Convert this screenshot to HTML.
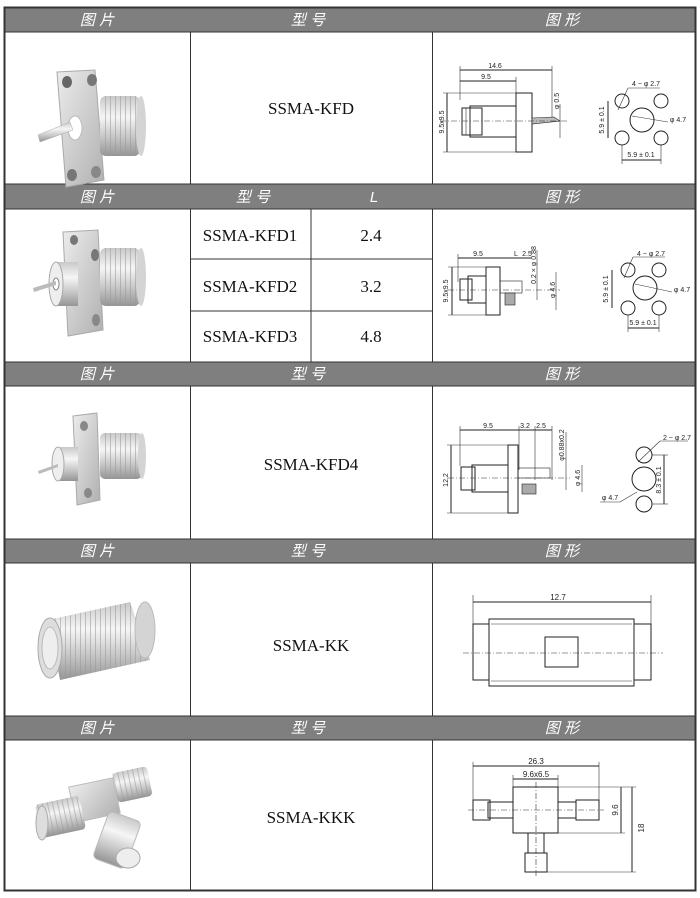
<!DOCTYPE html>
<html><head><meta charset="utf-8"><style>
html,body{margin:0;padding:0;background:#fff;}
svg{display:block;}
.h{font-family:"Liberation Sans","Noto Sans CJK SC",sans-serif;font-size:15px;fill:#fff;font-style:italic;text-anchor:middle;}
.m{font-family:"Liberation Serif",serif;font-size:17px;fill:#111;text-anchor:middle;}
.d{font-family:"Liberation Sans",sans-serif;font-size:7px;fill:#222;text-anchor:middle;}
.ln{stroke:#222;stroke-width:1;fill:none;}
.th{stroke:#333;stroke-width:0.6;fill:none;}
.cl{stroke:#333;stroke-width:0.6;stroke-dasharray:6 2 1 2;fill:none;}
</style></head><body>
<svg width="700" height="898" viewBox="0 0 700 898" xmlns="http://www.w3.org/2000/svg">
<defs>
<linearGradient id="mg" x1="0" y1="0" x2="0" y2="1">
<stop offset="0" stop-color="#c9c9c9"/><stop offset="0.35" stop-color="#f6f6f6"/><stop offset="0.7" stop-color="#c4c4c4"/><stop offset="1" stop-color="#959595"/></linearGradient>
<linearGradient id="fg" x1="0" y1="0" x2="1" y2="1">
<stop offset="0" stop-color="#ececec"/><stop offset="1" stop-color="#b0b0b0"/></linearGradient>
<pattern id="thr" width="5" height="10" patternUnits="userSpaceOnUse"><rect width="1" height="10" fill="#999" opacity="0.55"/></pattern>
</defs>

<g fill="#7f7f7f">
<rect x="4" y="7" width="692" height="25"/>
<rect x="4" y="184" width="692" height="25"/>
<rect x="4" y="362" width="692" height="24"/>
<rect x="4" y="539" width="692" height="24"/>
<rect x="4" y="716" width="692" height="24"/>
</g>
<g stroke="#333" stroke-width="1" fill="none">
<rect x="4.5" y="7.5" width="691" height="883" stroke-width="2"/>
<line x1="4" y1="32" x2="696" y2="32"/><line x1="4" y1="184" x2="696" y2="184"/>
<line x1="4" y1="209" x2="696" y2="209"/><line x1="4" y1="362" x2="696" y2="362"/>
<line x1="4" y1="386" x2="696" y2="386"/><line x1="4" y1="539" x2="696" y2="539"/>
<line x1="4" y1="563" x2="696" y2="563"/><line x1="4" y1="716" x2="696" y2="716"/>
<line x1="4" y1="740" x2="696" y2="740"/>
<line x1="190.5" y1="32" x2="190.5" y2="184"/><line x1="432.5" y1="32" x2="432.5" y2="184"/>
<line x1="190.5" y1="209" x2="190.5" y2="362"/><line x1="432.5" y1="209" x2="432.5" y2="362"/>
<line x1="311" y1="209" x2="311" y2="362"/>
<line x1="190" y1="259" x2="432" y2="259"/><line x1="190" y1="311" x2="432" y2="311"/>
<line x1="190.5" y1="386" x2="190.5" y2="539"/><line x1="432.5" y1="386" x2="432.5" y2="539"/>
<line x1="190.5" y1="563" x2="190.5" y2="716"/><line x1="432.5" y1="563" x2="432.5" y2="716"/>
<line x1="190.5" y1="740" x2="190.5" y2="891"/><line x1="432.5" y1="740" x2="432.5" y2="891"/>
</g>
<g class="h">
<text x="97" y="25">图 片</text><text x="308" y="25">型 号</text><text x="562" y="25">图 形</text>
<text x="97" y="202">图 片</text><text x="253" y="202">型 号</text><text x="374" y="202">L</text><text x="562" y="202">图 形</text>
<text x="97" y="379">图 片</text><text x="308" y="379">型 号</text><text x="562" y="379">图 形</text>
<text x="97" y="556">图 片</text><text x="308" y="556">型 号</text><text x="562" y="556">图 形</text>
<text x="97" y="733">图 片</text><text x="308" y="733">型 号</text><text x="562" y="733">图 形</text>
</g>
<g class="m">
<text x="311" y="114">SSMA-KFD</text>
<text x="250" y="241">SSMA-KFD1</text><text x="371" y="241">2.4</text>
<text x="250" y="292">SSMA-KFD2</text><text x="371" y="292">3.2</text>
<text x="250" y="342">SSMA-KFD3</text><text x="371" y="342">4.8</text>
<text x="311" y="470">SSMA-KFD4</text>
<text x="311" y="651">SSMA-KK</text>
<text x="311" y="823">SSMA-KKK</text>
</g>

<!-- row1 photo -->
<g>
<polygon points="57,72 95,70 104,180 66,187" fill="url(#fg)" stroke="#aaa"/>
<ellipse cx="67" cy="82" rx="5" ry="6" fill="#666"/><ellipse cx="92" cy="80" rx="5" ry="6" fill="#777"/>
<ellipse cx="72" cy="175" rx="5" ry="6" fill="#777"/><ellipse cx="96" cy="172" rx="5" ry="6" fill="#888"/>
<ellipse cx="75" cy="128" rx="7" ry="12" fill="#fff" stroke="#bbb"/>
<rect x="100" y="96" width="40" height="60" rx="6" fill="url(#mg)"/>
<rect x="102" y="96" width="36" height="60" fill="url(#thr)"/>
<ellipse cx="141" cy="126" rx="5" ry="30" fill="#d4d4d4"/>
<polygon points="38,135 70,122 73,130 40,142" fill="url(#mg)" stroke="#aaa" stroke-width="0.5"/>
</g>
<!-- row2 photo -->
<g>
<polygon points="63,232 98,230 103,330 68,336" fill="url(#fg)" stroke="#aaa"/>
<ellipse cx="74" cy="240" rx="4" ry="5" fill="#777"/><ellipse cx="95" cy="255" rx="4" ry="6" fill="#777"/>
<ellipse cx="96" cy="320" rx="4" ry="6" fill="#888"/>
<rect x="100" y="248" width="40" height="58" rx="6" fill="url(#mg)"/>
<rect x="102" y="248" width="36" height="58" fill="url(#thr)"/>
<ellipse cx="141" cy="277" rx="5" ry="29" fill="#d4d4d4"/>
<rect x="56" y="262" width="22" height="44" fill="url(#mg)"/>
<ellipse cx="56" cy="284" rx="7" ry="22" fill="#eee" stroke="#aaa"/>
<ellipse cx="56" cy="284" rx="3" ry="6" fill="#fff" stroke="#888"/>
<polygon points="33,288 56,281 56,285 34,292" fill="#bbb"/>
</g>
<!-- row3 photo -->
<g>
<rect x="100" y="433" width="42" height="46" rx="5" fill="url(#mg)"/>
<rect x="102" y="433" width="38" height="46" fill="url(#thr)"/>
<ellipse cx="142" cy="456" rx="4" ry="23" fill="#d4d4d4"/>
<polygon points="73,416 97,413 100,500 77,505" fill="url(#fg)" stroke="#aaa"/>
<ellipse cx="84" cy="426" rx="4" ry="5" fill="#888"/><ellipse cx="88" cy="493" rx="4" ry="5" fill="#888"/>
<rect x="58" y="447" width="20" height="34" fill="url(#mg)"/>
<ellipse cx="58" cy="464" rx="6" ry="17" fill="#eee" stroke="#aaa"/>
<polygon points="38,471 58,464 58,467 39,474" fill="#bbb"/>
</g>
<!-- row4 photo -->
<g>
<polygon points="48,620 130,602 150,660 60,680" fill="url(#mg)"/>
<polygon points="48,620 130,602 150,660 60,680" fill="url(#thr)"/>
<ellipse cx="145" cy="630" rx="10" ry="28" fill="#d4d4d4" stroke="#bbb"/>
<ellipse cx="50" cy="648" rx="12" ry="30" fill="#ddd" stroke="#aaa"/>
<ellipse cx="50" cy="648" rx="8" ry="21" fill="#eee" stroke="#bbb"/>
</g>
<!-- row5 photo -->
<g>
<rect x="72" y="782" width="45" height="36" transform="rotate(-12 95 800)" fill="url(#fg)" stroke="#bbb"/>
<rect x="115" y="770" width="35" height="30" rx="4" transform="rotate(-12 130 785)" fill="url(#mg)"/>
<rect x="115" y="770" width="35" height="30" transform="rotate(-12 130 785)" fill="url(#thr)"/>
<rect x="38" y="800" width="45" height="34" rx="4" transform="rotate(-12 60 817)" fill="url(#mg)"/>
<rect x="38" y="800" width="45" height="34" transform="rotate(-12 60 817)" fill="url(#thr)"/>
<ellipse cx="42" cy="823" rx="6" ry="17" fill="#ddd" stroke="#aaa"/>
<rect x="100" y="815" width="34" height="50" rx="5" transform="rotate(20 117 840)" fill="url(#mg)" stroke="#bbb"/>
<ellipse cx="128" cy="858" rx="12" ry="10" fill="#eee" stroke="#aaa"/>
</g>

<!-- row1 drawing -->
<g>
<line class="ln" x1="460" y1="70" x2="552" y2="70"/><line class="th" x1="460" y1="66" x2="460" y2="100"/><line class="th" x1="552" y1="66" x2="552" y2="118"/>
<text class="d" x="495" y="68">14.6</text>
<line class="ln" x1="460" y1="81" x2="516" y2="81"/><line class="th" x1="516" y1="77" x2="516" y2="93"/>
<text class="d" x="486" y="79">9.5</text>
<rect class="ln" x="516" y="93" width="16" height="59"/>
<rect class="ln" x="470" y="106" width="46" height="31"/>
<rect x="462" y="108" width="20" height="27" fill="none" stroke="#222"/>
<line class="th" x1="466" y1="108" x2="466" y2="135"/><line class="th" x1="470" y1="108" x2="470" y2="135"/>
<polygon points="532,118 554,117 560,121 532,124" fill="#bbb" stroke="#222" stroke-width="0.6"/>
<line class="cl" x1="440" y1="121" x2="568" y2="121"/>
<line class="ln" x1="447" y1="93" x2="447" y2="152"/><line class="th" x1="443" y1="93" x2="516" y2="93"/><line class="th" x1="443" y1="152" x2="516" y2="152"/>
<text class="d" transform="translate(444 122) rotate(-90)">9.5x9.5</text>
<line class="th" x1="560" y1="104" x2="560" y2="138"/>
<text class="d" transform="translate(559 101) rotate(-90)">φ 0.5</text>
<circle class="ln" cx="622" cy="101" r="7"/><circle class="ln" cx="661" cy="101" r="7"/>
<circle class="ln" cx="622" cy="138" r="7"/><circle class="ln" cx="661" cy="138" r="7"/>
<circle class="ln" cx="642" cy="120" r="12"/>
<line class="th" x1="632" y1="116" x2="668" y2="122"/><text class="d" x="678" y="122">φ 4.7</text>
<line class="th" x1="618" y1="110" x2="628" y2="88"/><line class="th" x1="628" y1="88" x2="660" y2="88"/><text class="d" x="646" y="86">4 − φ 2.7</text>
<line class="ln" x1="608" y1="101" x2="608" y2="138"/><text class="d" transform="translate(604 120) rotate(-90)">5.9 ± 0.1</text>
<line class="ln" x1="622" y1="160" x2="661" y2="160"/><line class="th" x1="622" y1="145" x2="622" y2="164"/><line class="th" x1="661" y1="145" x2="661" y2="164"/>
<text class="d" x="641" y="157">5.9 ± 0.1</text>
</g>
<!-- row2 drawing -->
<g>
<line class="ln" x1="458" y1="258" x2="531" y2="258"/><text class="d" x="478" y="256">9.5</text>
<text class="d" x="516" y="256">L</text><text class="d" x="527" y="256">2.5</text>
<line class="th" x1="458" y1="254" x2="458" y2="282"/>
<rect class="ln" x="486" y="267" width="14" height="48"/>
<rect class="ln" x="468" y="276" width="18" height="27"/>
<rect x="460" y="279" width="12" height="21" fill="none" stroke="#222"/>
<rect x="500" y="281" width="22" height="12" fill="none" stroke="#222" stroke-width="0.6"/>
<rect x="505" y="293" width="10" height="12" fill="#aaa" stroke="#222" stroke-width="0.6"/>
<line class="cl" x1="448" y1="290" x2="560" y2="290"/>
<line class="ln" x1="452" y1="267" x2="452" y2="315"/><line class="th" x1="448" y1="267" x2="486" y2="267"/><line class="th" x1="448" y1="315" x2="486" y2="315"/>
<text class="d" transform="translate(448 291) rotate(-90)">9.5x9.5</text>
<line class="th" x1="537" y1="250" x2="537" y2="300"/><text class="d" transform="translate(536 265) rotate(-90)">0.2 × φ 0.88</text>
<line class="th" x1="556" y1="272" x2="556" y2="310"/><text class="d" transform="translate(555 290) rotate(-90)">φ 4.6</text>
<circle class="ln" cx="628" cy="270" r="7"/><circle class="ln" cx="659" cy="270" r="7"/>
<circle class="ln" cx="628" cy="308" r="7"/><circle class="ln" cx="659" cy="308" r="7"/>
<circle class="ln" cx="645" cy="288" r="12"/>
<line class="th" x1="635" y1="284" x2="672" y2="292"/><text class="d" x="682" y="292">φ 4.7</text>
<line class="th" x1="624" y1="278" x2="633" y2="257"/><line class="th" x1="633" y1="257" x2="665" y2="257"/><text class="d" x="651" y="256">4 − φ 2.7</text>
<line class="ln" x1="612" y1="270" x2="612" y2="308"/><text class="d" transform="translate(608 289) rotate(-90)">5.9 ± 0.1</text>
<line class="ln" x1="628" y1="328" x2="659" y2="328"/><line class="th" x1="628" y1="315" x2="628" y2="332"/><line class="th" x1="659" y1="315" x2="659" y2="332"/>
<text class="d" x="643" y="325">5.9 ± 0.1</text>
</g>
<!-- row3 drawing -->
<g>
<line class="ln" x1="460" y1="430" x2="552" y2="430"/><text class="d" x="488" y="428">9.5</text><text class="d" x="525" y="428">3.2</text><text class="d" x="541" y="428">2.5</text>
<line class="th" x1="460" y1="426" x2="460" y2="466"/><line class="th" x1="519" y1="426" x2="519" y2="470"/><line class="th" x1="535" y1="426" x2="535" y2="480"/><line class="th" x1="552" y1="426" x2="552" y2="480"/>
<rect class="ln" x="508" y="445" width="10" height="68"/>
<rect class="ln" x="472" y="465" width="36" height="27"/>
<rect x="461" y="467" width="14" height="23" fill="none" stroke="#222"/>
<rect x="518" y="468" width="32" height="10" fill="none" stroke="#222" stroke-width="0.6"/>
<rect x="522" y="484" width="14" height="10" fill="#aaa" stroke="#222" stroke-width="0.6"/>
<line class="cl" x1="448" y1="478" x2="570" y2="478"/>
<line class="ln" x1="451" y1="445" x2="451" y2="513"/><line class="th" x1="447" y1="445" x2="508" y2="445"/><line class="th" x1="447" y1="513" x2="508" y2="513"/>
<text class="d" transform="translate(448 480) rotate(-90)">12.2</text>
<line class="th" x1="566" y1="432" x2="566" y2="490"/><text class="d" transform="translate(564 445) rotate(-90)">φ0.88x0.2</text>
<line class="th" x1="582" y1="465" x2="582" y2="492"/><text class="d" transform="translate(580 478) rotate(-90)">φ 4.6</text>
<circle class="ln" cx="644" cy="455" r="8"/><circle class="ln" cx="644" cy="479" r="12"/><circle class="ln" cx="644" cy="504" r="8"/>
<line class="th" x1="638" y1="462" x2="660" y2="441"/><line class="th" x1="660" y1="441" x2="688" y2="441"/><text class="d" x="677" y="440">2 − φ 2.7</text>
<line class="th" x1="637" y1="492" x2="620" y2="502"/><line class="th" x1="600" y1="502" x2="620" y2="502"/><text class="d" x="610" y="500">φ 4.7</text>
<line class="ln" x1="664" y1="455" x2="664" y2="504"/><line class="th" x1="652" y1="455" x2="668" y2="455"/><line class="th" x1="652" y1="504" x2="668" y2="504"/>
<text class="d" transform="translate(661 480) rotate(-90)">8.3 ± 0.1</text>
</g>
<!-- row4 drawing -->
<g>
<line class="ln" x1="473" y1="602" x2="651" y2="602"/><line class="th" x1="473" y1="595" x2="473" y2="624"/><line class="th" x1="651" y1="595" x2="651" y2="624"/>
<text class="d" x="558" y="600" style="font-size:8px">12.7</text>
<rect class="ln" x="489" y="619" width="145" height="67"/>
<line class="th" x1="491" y1="624" x2="632" y2="624"/><line class="th" x1="491" y1="681" x2="632" y2="681"/>
<rect class="ln" x="473" y="624" width="16" height="56"/><rect class="ln" x="634" y="624" width="17" height="56"/>
<rect class="ln" x="545" y="637" width="33" height="30"/>
<line class="cl" x1="463" y1="653" x2="663" y2="653"/>
</g>
<!-- row5 drawing -->
<g>
<line class="ln" x1="473" y1="766" x2="599" y2="766"/><line class="th" x1="473" y1="762" x2="473" y2="800"/><line class="th" x1="599" y1="762" x2="599" y2="800"/>
<text class="d" x="536" y="764" style="font-size:8px">26.3</text>
<line class="ln" x1="513" y1="779" x2="558" y2="779"/><line class="th" x1="513" y1="775" x2="513" y2="787"/><line class="th" x1="558" y1="775" x2="558" y2="787"/>
<text class="d" x="536" y="777" style="font-size:8px">9.6x6.5</text>
<rect class="ln" x="513" y="787" width="45" height="46"/>
<rect class="ln" x="488" y="802" width="25" height="16"/><rect class="ln" x="473" y="800" width="17" height="20"/>
<rect class="ln" x="558" y="802" width="18" height="16"/><rect class="ln" x="576" y="800" width="23" height="20"/>
<rect class="ln" x="528" y="833" width="16" height="20"/><rect class="ln" x="525" y="853" width="22" height="19"/>
<line class="cl" x1="468" y1="810" x2="604" y2="810"/><line class="cl" x1="536" y1="782" x2="536" y2="876"/>
<line class="th" x1="558" y1="787" x2="636" y2="787"/><line class="th" x1="558" y1="833" x2="625" y2="833"/><line class="th" x1="547" y1="872" x2="636" y2="872"/>
<line class="ln" x1="621" y1="787" x2="621" y2="833"/><line class="ln" x1="632" y1="787" x2="632" y2="872"/>
<text class="d" transform="translate(618 810) rotate(-90)" style="font-size:8px">9.6</text>
<text class="d" transform="translate(644 828) rotate(-90)" style="font-size:8px">18</text>
</g>
</svg>
</body></html>
